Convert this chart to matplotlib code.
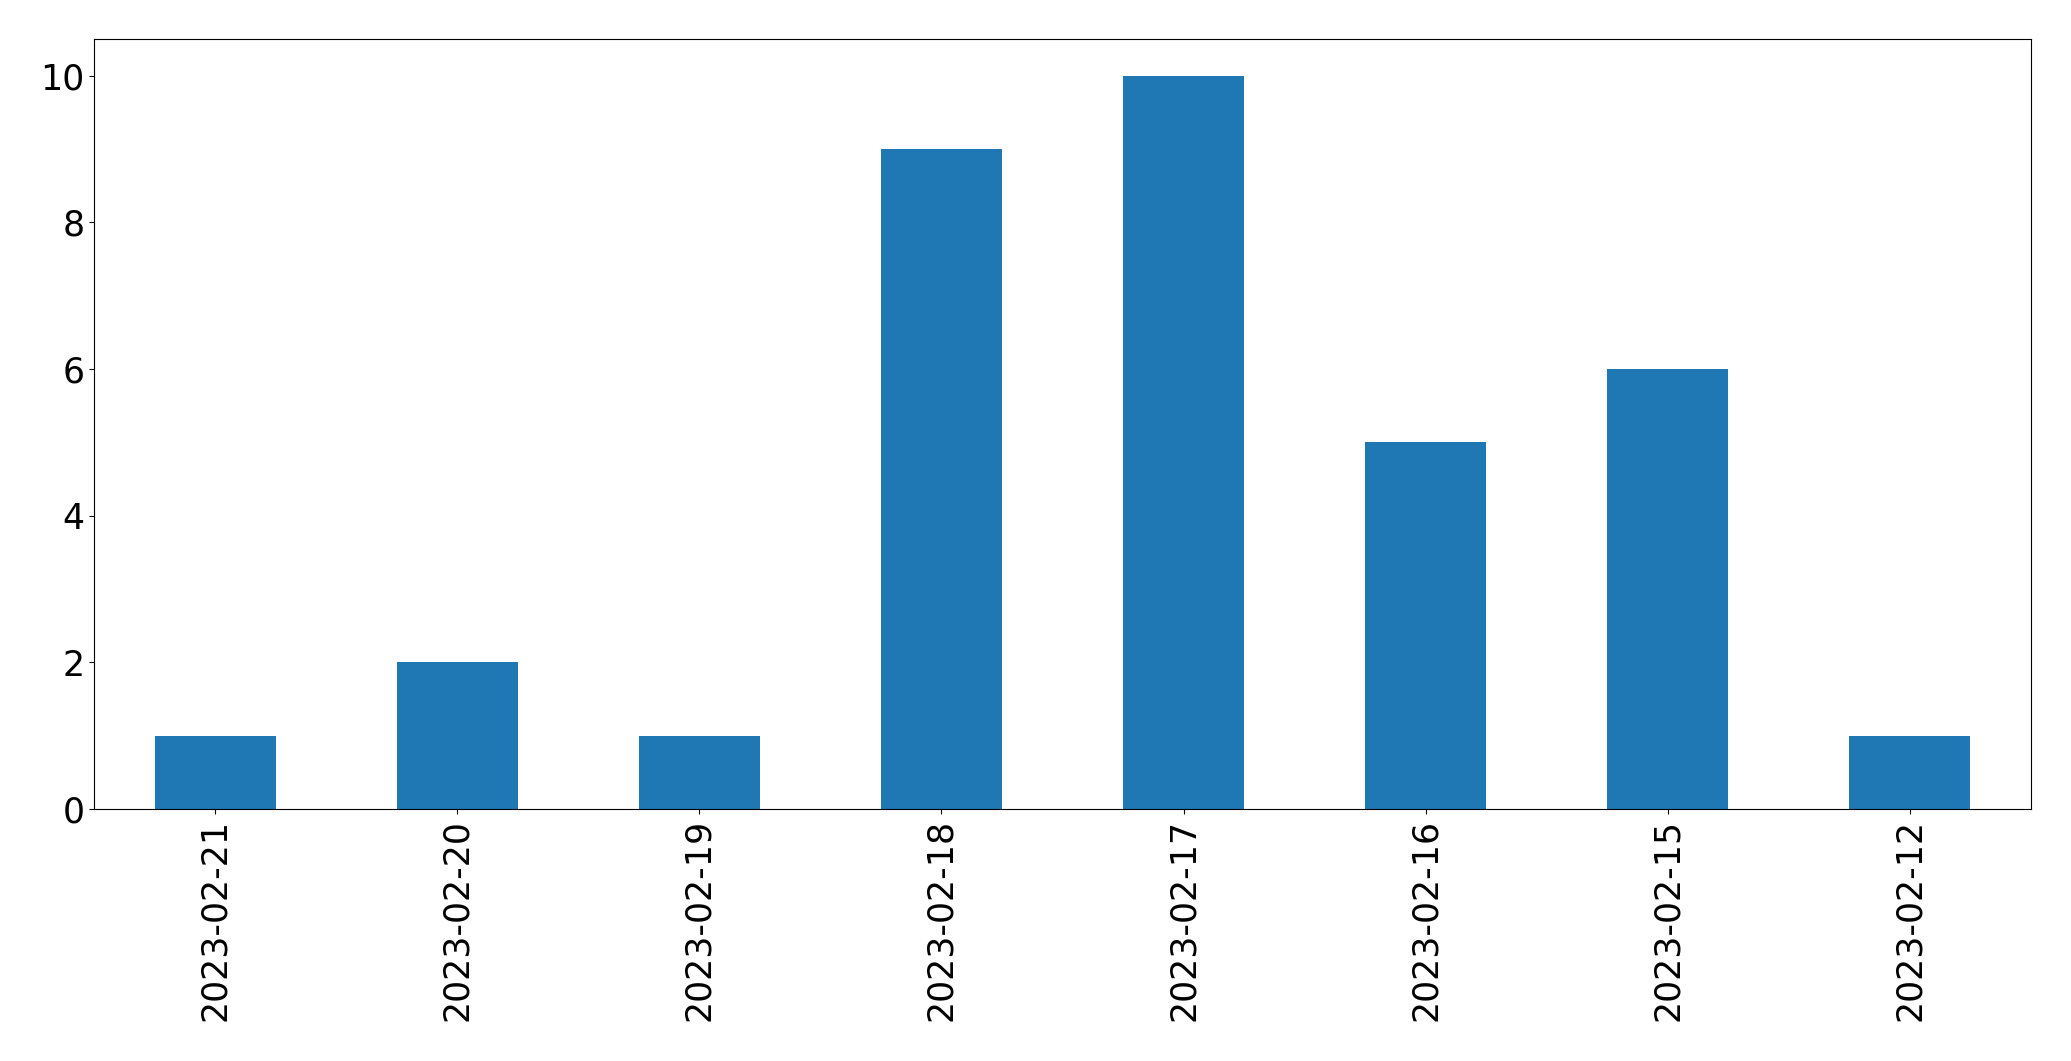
import matplotlib
matplotlib.use('Agg')
import matplotlib.pyplot as plt
import pandas as pd

# Daily counts, in the order shown
dates = ['2023-02-21', '2023-02-20', '2023-02-19', '2023-02-18',
         '2023-02-17', '2023-02-16', '2023-02-15', '2023-02-12']
counts = [1, 2, 1, 9, 10, 5, 6, 1]

counts_series = pd.Series(counts, index=dates)

fig, ax = plt.subplots(figsize=(20.71, 10.61), dpi=100)
counts_series.plot(kind='bar', ax=ax, color='#1f77b4', fontsize=25)
ax.set_ylim(0, 10.5)
fig.subplots_adjust(left=94 / 2071, right=2031 / 2071, top=1 - 39 / 1061, bottom=1 - 809 / 1061)
plt.savefig('out.png')
